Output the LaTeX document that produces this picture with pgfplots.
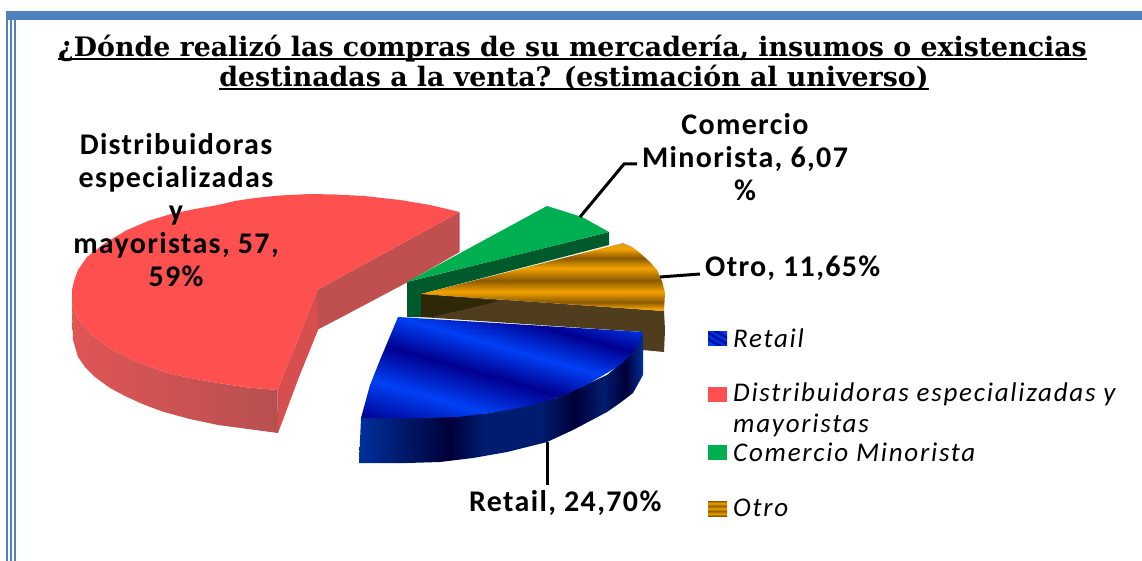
\documentclass[border=0pt]{standalone}
\usepackage{fontspec}
\usepackage{pgfplots}
\pgfplotsset{compat=1.18}
\newfontfamily\lab{Carlito}[LetterSpace=4.5]
\newfontfamily\legf{Carlito}[LetterSpace=6.5]
\newfontfamily\ttl{DejaVu Serif}
\definecolor{frameblue}{HTML}{4F81BD}
\definecolor{redtop}{HTML}{FF5050}
\definecolor{redback}{HTML}{C05050}
\definecolor{redinner}{HTML}{D64E4E}
\definecolor{redsideL}{HTML}{E05555}
\definecolor{redsideR}{HTML}{B85050}
\definecolor{greentop}{HTML}{00B050}
\definecolor{greenside}{HTML}{005A2C}
\definecolor{brownwall}{HTML}{503D1E}
\definecolor{browndark}{HTML}{2F2808}
\definecolor{oB}{HTML}{F2A200}
\definecolor{oD}{HTML}{8C5A00}
\definecolor{oT}{HTML}{D89A20}
\definecolor{bB}{HTML}{0040F5}
\definecolor{bD}{HTML}{000090}
\definecolor{sA}{HTML}{00309C}
\definecolor{sD}{HTML}{000038}
\definecolor{sM}{HTML}{001C70}
\pgfdeclareverticalshading{orangetop}{100bp}{color(0bp)=(oB);color(26.5bp)=(oB);color(31.5bp)=(oD);color(39bp)=(oB);color(47.5bp)=(oD);color(56.5bp)=(oB);color(64bp)=(oD);color(70.5bp)=(oB);color(75bp)=(oT);color(100bp)=(oT)}
\pgfdeclareverticalshading{orangeswatch}{100bp}{color(0bp)=(oD);color(25bp)=(oD);color(33bp)=(oB);color(41bp)=(oD);color(50bp)=(oB);color(58bp)=(oD);color(67bp)=(oB);color(75bp)=(oD);color(100bp)=(oD)}
\pgfdeclareverticalshading{bluetop}{100bp}{color(0bp)=(bB);color(11bp)=(bB);color(19bp)=(bD);color(33bp)=(bB);color(46bp)=(bD);color(57bp)=(bB);color(68bp)=(bD);color(78bp)=(bB);color(100bp)=(bB)}
\pgfdeclareverticalshading{blueswatch}{100bp}{color(0bp)=(bB);color(25bp)=(bB);color(33bp)=(bD);color(41bp)=(bB);color(50bp)=(bD);color(58bp)=(bB);color(67bp)=(bD);color(75bp)=(bB);color(100bp)=(bB)}
\pgfdeclarehorizontalshading{blueside}{100bp}{color(0bp)=(sA);color(25bp)=(sA);color(41bp)=(sD);color(47bp)=(sM);color(57bp)=(sM);color(63bp)=(sD);color(68bp)=(sM);color(72bp)=(sD);color(75bp)=(sA);color(100bp)=(sA)}
\pgfdeclarehorizontalshading{redside}{100bp}{color(0bp)=(redsideL);color(25bp)=(redsideL);color(75bp)=(redsideR);color(100bp)=(redsideR)}
\newcommand{\myul}[1]{\setbox0\hbox{#1}\rlap{\usebox0}\raisebox{-3.5pt}{\rule{\wd0}{2.6pt}}}
\tikzset{
  dlab/.style={font=\lab\bfseries\fontsize{30}{33}\selectfont,align=center,inner sep=0pt},
  leg/.style={font=\legf\itshape\fontsize{27}{30}\selectfont,anchor=west,inner sep=0pt},
  tl/.style={font=\ttl\bfseries\fontsize{26.8}{30}\selectfont,inner sep=0pt,anchor=base}}
\begin{document}
\begin{tikzpicture}
\begin{axis}[width=1142pt,height=561pt,scale only axis,axis lines=none,
  xmin=0,xmax=1142,ymin=0,ymax=561,y dir=reverse,clip=false]
% frame
\fill[white] (axis cs:0,0) rectangle (axis cs:1142,561);
\fill[frameblue] (axis cs:6,11) rectangle (axis cs:1142,20);
\fill[frameblue] (axis cs:6,11) rectangle (axis cs:8,561);
\fill[frameblue] (axis cs:9.5,11) rectangle (axis cs:12,561);
\fill[frameblue] (axis cs:13.5,11) rectangle (axis cs:16,561);
% red slice: back wall, inner wall, outer side, top
\addplot[draw=none,fill=redback] coordinates {(317,290)(459.6,212)(459.6,252)(406,283)(340,318)(317,330)};
\addplot[draw=none,fill=redinner] coordinates {(277.5,390)(288,363)(299,337)(317,290)(318,330)(299,377)(278,433)};
\addplot[draw=none,shade,shading=redside] coordinates {(72,303)(75,312)(80,322)(92,335)(109,348)(135,361)(164,372)(190,378)(218,383)(248,387.5)(277.5,390)(278,433)(248,429)(218,425)(190,419)(164,412)(145,405)(127,397)(110,388)(95,377)(85,367)(78,357)(73,340)};
\addplot[draw=none,fill=redtop] coordinates {(459.6,212)(430,205)(400,200)(364,196)(335,194.5)(310,194)(280,195.5)(255,198)(235,201)(218,205)(195,209)(171,214)(148,221)(127,230)(105,243)(87,257)(78,270)(74,281)(72,290)(72,303)(75,312)(80,322)(92,335)(109,348)(135,361)(164,372)(190,378)(218,383)(248,387.5)(277.5,390)(288,363)(299,337)(317,290)};
% green slice
\addplot[draw=none,fill=greenside] coordinates {(407,282)(609,232)(609,245)(421,294)(421,317)(407,317)};
\addplot[draw=none,fill=greentop] coordinates {(407,282)(547,206)(582,217)(609,232)};
% orange slice
\addplot[draw=none,fill=brownwall] coordinates {(421,294)(664,311)(665,330)(664,352)(643,350)(643,332)(421,317)};
\addplot[draw=none,fill=browndark] coordinates {(421,294)(500,301)(432,317)(421,317)};
\addplot[draw=none,shade,shading=orangetop] coordinates {(421,294)(623,243)(632,247)(640,253)(650,262)(657,270)(662,281)(665,293)(664,311)};
% blue slice
\addplot[draw=none,shade,shading=blueside] coordinates {(361,418)(423,418)(490,413)(557,398)(607,375)(633,353)(643,332)(643,375)(633,393)(620,403)(607,412)(573,430)(547,442)(507,452)(473,458)(440,462)(407,463)(359,463)};
\addplot[draw=none,shade,shading=bluetop,shading angle=-16] coordinates {(398,317)(643,332)(638,345)(633,353)(620,365)(607,373)(583,387)(557,398)(523,407)(490,413)(457,417)(423,418)(361,418)(370,385)(380,360)};
% leader lines
\addplot[black,line width=3pt] coordinates {(547,442)(547,485)};
\addplot[black,line width=3pt] coordinates {(580,217)(624,164)(637,164)};
\addplot[black,line width=3pt] coordinates {(660,277)(700,274)};
% title
\node[tl] at (axis cs:572.5,57) {\myul{¿Dónde realizó las compras de su mercadería, insumos o existencias}};
\node[tl] at (axis cs:574,87) {\myul{destinadas a la venta? (estimación al universo)}};
% data labels
\node[dlab,anchor=north] at (axis cs:176,133) {Distribuidoras\\especializadas\\y\\mayoristas, 57,\\59\%};
\node[dlab,anchor=north] at (axis cs:745,113) {Comercio\\Minorista, 6,07\\\%};
\node[dlab,anchor=west] at (axis cs:705,268) {Otro, 11,65\%};
\node[dlab,anchor=west] at (axis cs:469,503) {Retail, 24,70\%};
% legend
\addplot[draw=none,shade,shading=blueswatch,shading angle=-30] coordinates {(708,331)(727,331)(727,345)(708,345)};
\addplot[draw=none,fill=redtop] coordinates {(708,387)(727,387)(727,402)(708,402)};
\addplot[draw=none,fill=greentop] coordinates {(708,445)(727,445)(727,460)(708,460)};
\addplot[draw=none,shade,shading=orangeswatch] coordinates {(708,501)(727,501)(727,516)(708,516)};
\node[leg] at (axis cs:733,338) {Retail};
\node[leg] at (axis cs:733,394) {Distribuidoras especializadas y};
\node[leg] at (axis cs:733,425) {mayoristas};
\node[leg] at (axis cs:733,452) {Comercio Minorista};
\node[leg] at (axis cs:733,508) {Otro};
\end{axis}
\end{tikzpicture}
\end{document}
